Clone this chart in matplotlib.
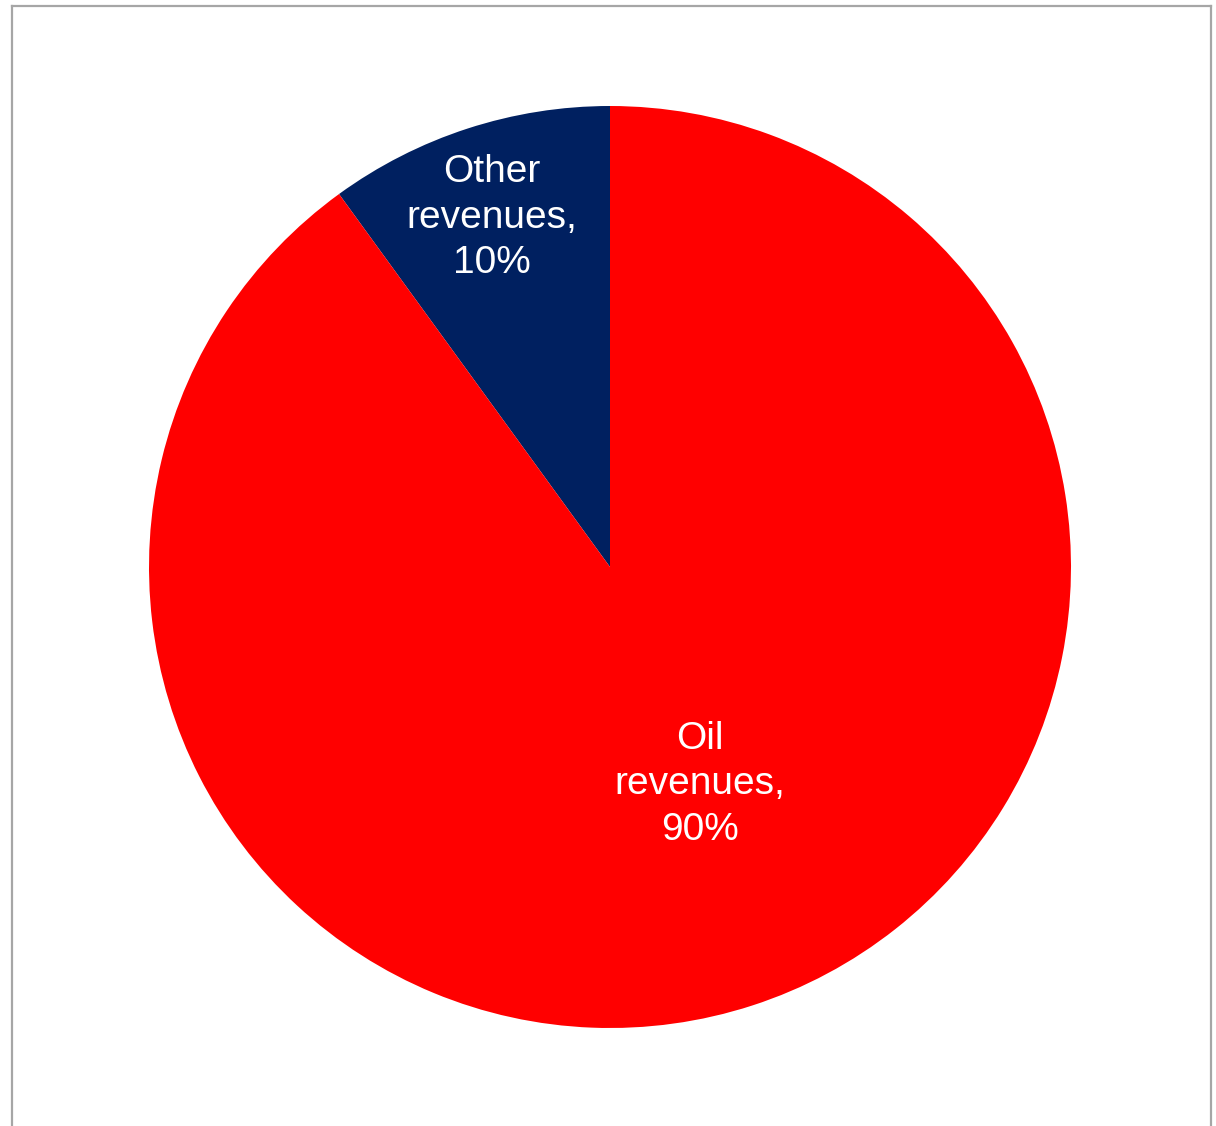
import matplotlib
matplotlib.use("Agg")
import matplotlib.pyplot as plt
import numpy as np
from matplotlib.lines import Line2D

# Revenue shares
categories = ["Other revenues", "Oil revenues"]
shares = [10, 90]
colors = ["#002060", "#FF0000"]

W, H = 1216, 1126
fig = plt.figure(figsize=(W / 100, H / 100), dpi=100)
fig.patch.set_facecolor("white")

# Chart area frame (open at the bottom edge)
frame = dict(color="#a6a6a6", linewidth=1.6, transform=fig.transFigure)
fx0, fx1, fy_top = 11.5 / W, 1211 / W, 1 - 5.5 / H
fig.add_artist(Line2D([fx0, fx1], [fy_top, fy_top], **frame))
fig.add_artist(Line2D([fx0, fx0], [0, fy_top], **frame))
fig.add_artist(Line2D([fx1, fx1], [0, fy_top], **frame))

cx, cy, r = 610, 1126 - 567, 461
ax = fig.add_axes([(cx - r) / W, (cy - r) / H, 2 * r / W, 2 * r / H])
wedges, _ = ax.pie(shares, colors=colors, startangle=90, counterclock=True,
                   radius=1.0, wedgeprops=dict(linewidth=0))
ax.set_xlim(-1, 1)
ax.set_ylim(-1, 1)
ax.set_aspect("equal")
ax.axis("off")

# Labels inside each slice
label_pos = [(108.7, 0.80), (-67.6, 0.51)]
for name, val, (ang, dist) in zip(categories, shares, label_pos):
    words = name.split(" ")
    text = f"{words[0]}\n{words[1]},\n{val}%"
    a = np.deg2rad(ang)
    ax.text(dist * np.cos(a), dist * np.sin(a), text, ha="center", va="center",
            color="white", fontsize=28, family="Liberation Sans",
            linespacing=1.33)

fig.savefig("out.png", dpi=100, facecolor="white")
